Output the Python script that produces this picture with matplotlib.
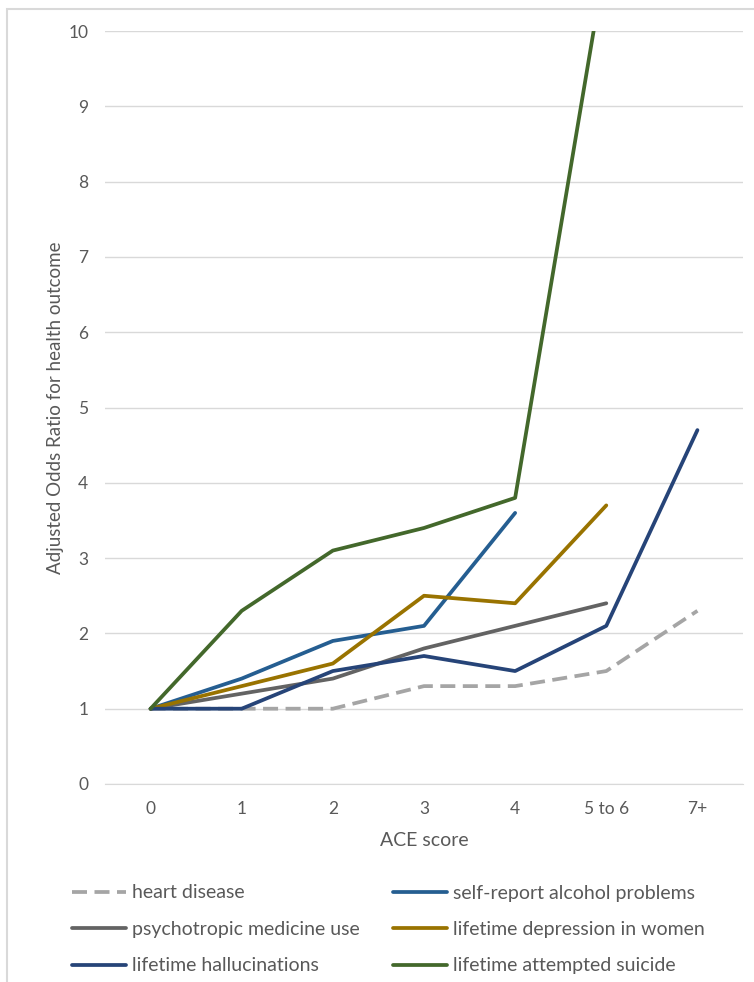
import matplotlib
matplotlib.use("Agg")
import matplotlib.pyplot as plt
from matplotlib.patches import Rectangle
import numpy as np

# categorias del eje x
ace_labels = ["0", "1", "2", "3", "4", "5 to 6", "7+"]

# odds ratio ajustados (None = sin dato)
heart_disease = [1.0, 1.0, 1.0, 1.3, 1.3, 1.5, 2.3]
alcohol = [1.0, 1.4, 1.9, 2.1, 3.6, None, None]
psychotropic = [1.0, 1.2, 1.4, 1.8, 2.1, 2.4, None]
depression_women = [1.0, 1.3, 1.6, 2.5, 2.4, 3.7, None]
hallucinations = [1.0, 1.0, 1.5, 1.7, 1.5, 2.1, 4.7]
attempted_suicide = [1.0, 2.3, 3.1, 3.4, 3.8, 11.0, None]

series = [
    ("heart disease", heart_disease, "#A5A5A5", (0, (4, 2))),
    ("self-report alcohol problems", alcohol, "#255E91", "-"),
    ("psychotropic medicine use", psychotropic, "#636363", "-"),
    ("lifetime depression in women", depression_women, "#997300", "-"),
    ("lifetime hallucinations", hallucinations, "#264478", "-"),
    ("lifetime attempted suicide", attempted_suicide, "#43682B", "-"),
]

plt.rcParams["font.family"] = ["Lato", "DejaVu Sans"]
txt = "#595959"
grid = "#D9D9D9"

fig = plt.figure(figsize=(7.54, 9.82), dpi=100)
ax = fig.add_axes([105 / 754, 1 - 784 / 982, 638 / 754, 753 / 982])

x = np.arange(len(ace_labels))
for name, vals, color, ls in series:
    y = np.array([np.nan if v is None else v for v in vals], dtype=float)
    ax.plot(x, y, color=color, lw=2.7, ls=ls, label=name,
            solid_capstyle="round", dash_capstyle="butt")

ax.set_xlim(-0.5, len(ace_labels) - 0.5)
ax.set_ylim(0, 10)
ax.set_yticks(range(0, 11))
ax.set_xticks(x)
ax.set_xticklabels(ace_labels)
ax.grid(axis="y", color=grid, lw=1)
ax.set_axisbelow(True)
for s in ["top", "right", "left"]:
    ax.spines[s].set_visible(False)
ax.spines["bottom"].set_color(grid)
ax.tick_params(length=0, colors=txt, labelsize=12.5)
ax.tick_params(axis="y", pad=12)
ax.tick_params(axis="x", pad=12)

ax.set_xlabel("ACE score", color=txt, fontsize=14, labelpad=11)
ax.set_ylabel("Adjusted Odds Ratio for health outcome", color=txt,
              fontsize=13.5, labelpad=3)

# --- leyenda ---
handles, labels = ax.get_legend_handles_labels()
order = [0, 2, 4, 1, 3, 5]
leg = fig.legend([handles[i] for i in order], [labels[i] for i in order],
                 ncol=2, frameon=False, loc="upper left",
                 bbox_to_anchor=(54 / 754, 1 - 867 / 982),
                 fontsize=14, handlelength=2.8, handletextpad=0.3,
                 columnspacing=1.7, labelspacing=1.0)
for t in leg.get_texts():
    t.set_color(txt)

# borde del area del grafico
fig.patches.append(Rectangle((7 / 754, -0.1), 1.2, 1.1 - 9 / 982,
                             transform=fig.transFigure, fill=False,
                             edgecolor=grid, lw=1.5))

fig.savefig("out.png", dpi=100)
